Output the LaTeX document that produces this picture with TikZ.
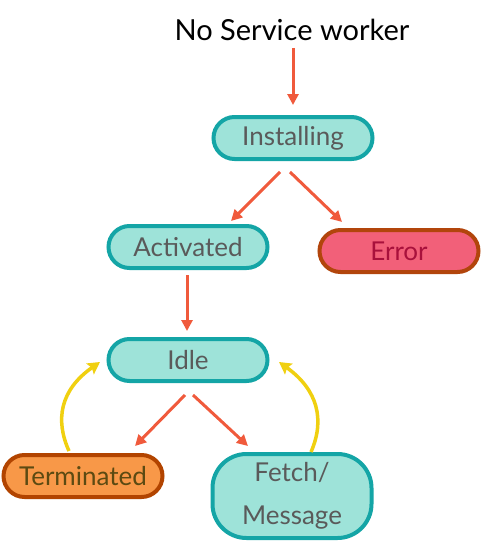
\documentclass[tikz,border=0pt]{standalone}
\usepackage{fontspec}
\setmainfont{Lato}
\usetikzlibrary{arrows.meta}
\definecolor{tealfill}{HTML}{9EE3D9}
\definecolor{tealline}{HTML}{14A5A6}
\definecolor{txtgray}{HTML}{5A5A5A}
\definecolor{arrred}{HTML}{F05A3C}
\definecolor{errfill}{HTML}{F26079}
\definecolor{errline}{HTML}{B2450C}
\definecolor{errtxt}{HTML}{A8113C}
\definecolor{termfill}{HTML}{F89848}
\definecolor{termline}{HTML}{B24400}
\definecolor{termtxt}{HTML}{5C4A12}
\definecolor{yel}{HTML}{F0D010}
\tikzset{
  state/.style={draw=tealline, fill=tealfill, line width=4pt, rounded corners=21pt,
    minimum width=159pt, minimum height=42pt, text=txtgray, font=\fontsize{26}{30}\selectfont, inner sep=0pt},
  errstate/.style={state, draw=errline, fill=errfill, text=errtxt},
  termstate/.style={state, draw=termline, fill=termfill, text=termtxt},
  flow/.style={draw=arrred, line width=3pt, -{Triangle[length=11pt,width=11pt]}},
  back/.style={draw=yel, line width=3.5pt, -{Stealth[length=12pt,width=13pt,inset=2pt]}}
}
\begin{document}
\begin{tikzpicture}[x=1pt,y=-1pt]
\useasboundingbox (0,0) rectangle (482,543);
\node[font=\fontsize{29}{33}\selectfont, text=black] (start) at (292,30) {No Service worker};
\node[state] (inst) at (293,138) {Installing};
\node[state] (act) at (188,247) {Activated};
\node[errstate] (err) at (399,251) {Error};
\node[state] (idle) at (188,360) {Idle};
\node[termstate] (term) at (83,476) {Terminated};
\node[state, minimum height=84pt, rounded corners=34pt, align=center, font=\fontsize{26}{43}\selectfont] (fetch) at (292,496) {Fetch/\\Message};
\coordinate (s1) at (293,48);
\coordinate (i1) at (293,105);
\draw[flow] (s1) -- (i1);
\coordinate (ia) at (280,172);
\coordinate (ib) at (231,221);
\draw[flow] (ia) -- (ib);
\coordinate (ic) at (290,172);
\coordinate (id) at (342,222);
\draw[flow] (ic) -- (id);
\coordinate (aa) at (187,275);
\coordinate (ab) at (187,331);
\draw[flow] (aa) -- (ab);
\coordinate (la) at (185,395);
\coordinate (lb) at (135,446);
\draw[flow] (la) -- (lb);
\coordinate (lc) at (193,395);
\coordinate (ld) at (248,446);
\draw[flow] (lc) -- (ld);
\coordinate (t0) at (69,451);
\coordinate (t1) at (100,362);
\draw[back] (t0) .. controls (55,420) and (60,390) .. (t1);
\coordinate (f0) at (311,452);
\coordinate (f1) at (279,362);
\draw[back] (f0) .. controls (325,420) and (318,390) .. (f1);
\end{tikzpicture}
\end{document}
